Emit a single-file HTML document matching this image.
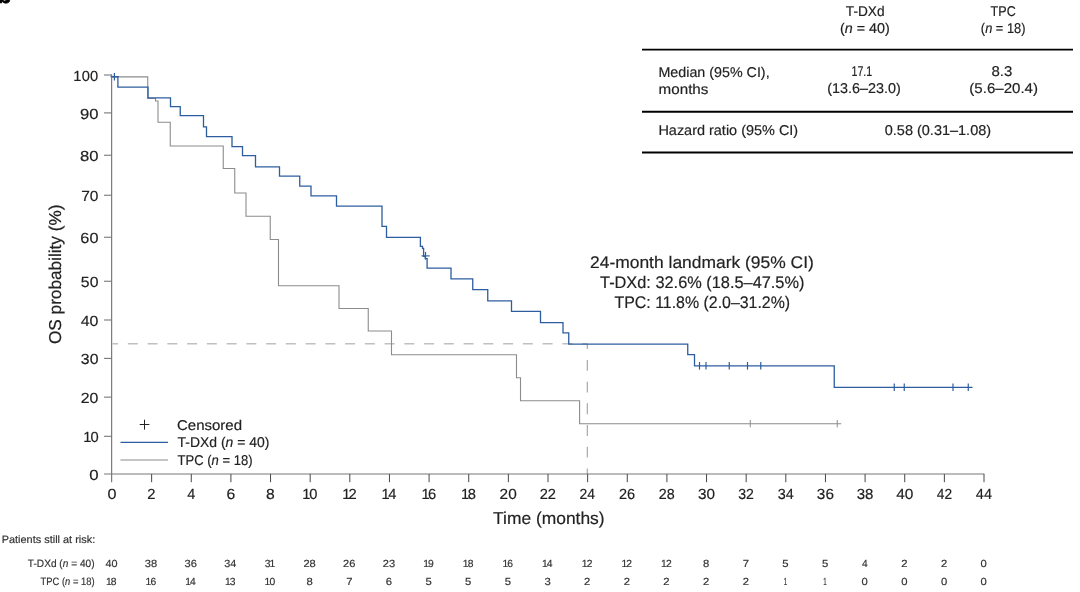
<!DOCTYPE html>
<html lang="en">
<head>
<meta charset="utf-8">
<title>Overall survival: T-DXd vs TPC</title>
<style>
html,body{margin:0;padding:0;background:#fff;}
body{width:1080px;height:592px;overflow:hidden;position:relative;font-family:"Liberation Sans", sans-serif;}
svg{position:absolute;left:0;top:0;display:block;}
svg text{font-family:"Liberation Sans", sans-serif;text-rendering:geometricPrecision;stroke-width:.18px;stroke-linejoin:round;}
</style>
</head>
<body>
<svg width="1080" height="592" viewBox="0 0 1080 592" role="img" aria-label="Kaplan-Meier overall survival plot">
<text x="-3.1" y="2.8" font-size="24" font-weight="bold" fill="#000" stroke="#000" style="stroke-width:.5px">b</text>
<line x1="112.5" y1="343.7" x2="587.3" y2="343.7" stroke="#c0c0c0" stroke-width="1.35" stroke-dasharray="10 9.75" stroke-dashoffset="4.4"/>
<line x1="587.3" y1="343.7" x2="587.3" y2="474" stroke="#a0a0a0" stroke-width="1.1" stroke-dasharray="10.85 10.85" stroke-dashoffset="5.45"/>
<polyline fill="none" stroke="#8c8c8c" stroke-width="1.1" points="112,76.9 147.75,76.9 147.75,98.55 155.5,98.55 155.5,101.05 158,101.05 158,122.3 170.25,122.3 170.25,146.05 223.25,146.05 223.25,168.55 234.75,168.55 234.75,193.05 246,193.05 246,216.3 270.25,216.3 270.25,239.55 278.5,239.55 278.5,285.8 339,285.8 339,308.55 368.25,308.55 368.25,331.05 391.5,331.05 391.5,354.8 516.5,354.8 516.5,377.8 520.5,377.8 520.5,400.8 579.6,400.8 579.6,423.7 841.25,423.7"/>
<line x1="750.25" y1="420.0" x2="750.25" y2="427.3" stroke="#8c8c8c" stroke-width="1"/>
<line x1="837.25" y1="420.0" x2="837.25" y2="427.3" stroke="#8c8c8c" stroke-width="1"/>
<polyline fill="none" stroke="#2c5d9f" stroke-width="1.3" points="112,76.7 117.9,76.7 117.9,87.05 148,87.05 148,97.8 170.5,97.8 170.5,106.55 180.25,106.55 180.25,115.55 203.5,115.55 203.5,126.8 206.5,126.8 206.5,136.55 232,136.55 232,146.55 242.5,146.55 242.5,155.55 255.5,155.55 255.5,166.8 279.5,166.8 279.5,176.05 299.75,176.05 299.75,186.05 311,186.05 311,195.8 336.5,195.8 336.5,206.05 382,206.05 382,226.3 386.5,226.3 386.5,237.3 420.4,237.3 420.4,246.3 422.5,246.3 422.5,248.4 423.6,248.4 423.6,256.3 425.3,256.3 425.3,258.6 427.1,258.6 427.1,268.05 451,268.05 451,278.8 472.75,278.8 472.75,289.55 487.75,289.55 487.75,300.8 511.5,300.8 511.5,311.3 540.5,311.3 540.5,322.55 563,322.55 563,332.8 568.75,332.8 568.75,344.05 687.75,344.05 687.75,354.55 694.5,354.55 694.5,365.8 834.25,365.8 834.25,387.3 972.5,387.3"/>
<line x1="114.4" y1="73.0" x2="114.4" y2="80.6" stroke="#2c5d9f" stroke-width="1.2"/>
<line x1="425.5" y1="251.89999999999998" x2="425.5" y2="259.5" stroke="#2c5d9f" stroke-width="1.2"/>
<line x1="699.5" y1="362.0" x2="699.5" y2="369.6" stroke="#2c5d9f" stroke-width="1.2"/>
<line x1="706" y1="362.0" x2="706" y2="369.6" stroke="#2c5d9f" stroke-width="1.2"/>
<line x1="729.25" y1="362.0" x2="729.25" y2="369.6" stroke="#2c5d9f" stroke-width="1.2"/>
<line x1="747.5" y1="362.0" x2="747.5" y2="369.6" stroke="#2c5d9f" stroke-width="1.2"/>
<line x1="760.75" y1="362.0" x2="760.75" y2="369.6" stroke="#2c5d9f" stroke-width="1.2"/>
<line x1="894.25" y1="383.5" x2="894.25" y2="391.1" stroke="#2c5d9f" stroke-width="1.2"/>
<line x1="904.25" y1="383.5" x2="904.25" y2="391.1" stroke="#2c5d9f" stroke-width="1.2"/>
<line x1="953" y1="383.5" x2="953" y2="391.1" stroke="#2c5d9f" stroke-width="1.2"/>
<line x1="968.25" y1="383.5" x2="968.25" y2="391.1" stroke="#2c5d9f" stroke-width="1.2"/>
<line x1="110.4" y1="76.7" x2="118.4" y2="76.7" stroke="#2c5d9f" stroke-width="1.2"/>
<line x1="421.4" y1="255.9" x2="429.8" y2="255.9" stroke="#2c5d9f" stroke-width="1.1"/>
<line x1="111.65" y1="74.4" x2="111.65" y2="482.2" stroke="#6e6e6e" stroke-width="1.1"/>
<line x1="104" y1="474" x2="984.3" y2="474" stroke="#787878" stroke-width="1.2"/>
<line x1="104" y1="75" x2="112" y2="75" stroke="#787878" stroke-width="1.1"/>
<line x1="104" y1="112.9" x2="112" y2="112.9" stroke="#787878" stroke-width="1.1"/>
<line x1="104" y1="155.25" x2="112" y2="155.25" stroke="#787878" stroke-width="1.1"/>
<line x1="104" y1="195.25" x2="112" y2="195.25" stroke="#787878" stroke-width="1.1"/>
<line x1="104" y1="237.25" x2="112" y2="237.25" stroke="#787878" stroke-width="1.1"/>
<line x1="104" y1="281.25" x2="112" y2="281.25" stroke="#787878" stroke-width="1.1"/>
<line x1="104" y1="320" x2="112" y2="320" stroke="#787878" stroke-width="1.1"/>
<line x1="104" y1="358.4" x2="112" y2="358.4" stroke="#787878" stroke-width="1.1"/>
<line x1="104" y1="397.15" x2="112" y2="397.15" stroke="#787878" stroke-width="1.1"/>
<line x1="104" y1="436.3" x2="112" y2="436.3" stroke="#787878" stroke-width="1.1"/>
<line x1="151.64" y1="474" x2="151.64" y2="482.2" stroke="#484848" stroke-width="1"/>
<line x1="191.27" y1="474" x2="191.27" y2="482.2" stroke="#484848" stroke-width="1"/>
<line x1="230.91" y1="474" x2="230.91" y2="482.2" stroke="#484848" stroke-width="1"/>
<line x1="270.55" y1="474" x2="270.55" y2="482.2" stroke="#484848" stroke-width="1"/>
<line x1="310.18" y1="474" x2="310.18" y2="482.2" stroke="#484848" stroke-width="1"/>
<line x1="349.82" y1="474" x2="349.82" y2="482.2" stroke="#484848" stroke-width="1"/>
<line x1="389.45" y1="474" x2="389.45" y2="482.2" stroke="#484848" stroke-width="1"/>
<line x1="429.09" y1="474" x2="429.09" y2="482.2" stroke="#484848" stroke-width="1"/>
<line x1="468.73" y1="474" x2="468.73" y2="482.2" stroke="#484848" stroke-width="1"/>
<line x1="508.36" y1="474" x2="508.36" y2="482.2" stroke="#484848" stroke-width="1"/>
<line x1="548.0" y1="474" x2="548.0" y2="482.2" stroke="#484848" stroke-width="1"/>
<line x1="587.64" y1="474" x2="587.64" y2="482.2" stroke="#484848" stroke-width="1"/>
<line x1="627.27" y1="474" x2="627.27" y2="482.2" stroke="#484848" stroke-width="1"/>
<line x1="666.91" y1="474" x2="666.91" y2="482.2" stroke="#484848" stroke-width="1"/>
<line x1="706.55" y1="474" x2="706.55" y2="482.2" stroke="#484848" stroke-width="1"/>
<line x1="746.18" y1="474" x2="746.18" y2="482.2" stroke="#484848" stroke-width="1"/>
<line x1="785.82" y1="474" x2="785.82" y2="482.2" stroke="#484848" stroke-width="1"/>
<line x1="825.45" y1="474" x2="825.45" y2="482.2" stroke="#484848" stroke-width="1"/>
<line x1="865.09" y1="474" x2="865.09" y2="482.2" stroke="#484848" stroke-width="1"/>
<line x1="904.73" y1="474" x2="904.73" y2="482.2" stroke="#484848" stroke-width="1"/>
<line x1="944.36" y1="474" x2="944.36" y2="482.2" stroke="#484848" stroke-width="1"/>
<line x1="984.0" y1="474" x2="984.0" y2="482.2" stroke="#484848" stroke-width="1"/>
<line x1="139.7" y1="424.5" x2="149.4" y2="424.5" stroke="#222" stroke-width="1"/>
<line x1="144.5" y1="419.7" x2="144.5" y2="429.6" stroke="#222" stroke-width="1"/>
<line x1="120.5" y1="442.3" x2="168" y2="442.3" stroke="#2c5d9f" stroke-width="1.3"/>
<line x1="120.5" y1="460" x2="168" y2="460" stroke="#8c8c8c" stroke-width="1.2"/>
<line x1="642" y1="49.6" x2="1073" y2="49.6" stroke="#000" stroke-width="1.95"/>
<line x1="642" y1="111.8" x2="1073" y2="111.8" stroke="#000" stroke-width="1.95"/>
<line x1="642" y1="152.55" x2="1073" y2="152.55" stroke="#000" stroke-width="1.95"/>
<g id="table">
<text x="845.81" y="16" font-size="14.2" textLength="38.83" lengthAdjust="spacingAndGlyphs" fill="#222" stroke="#222">T-DXd</text>
<text x="840.04" y="33" font-size="14.2" textLength="49.73" lengthAdjust="spacingAndGlyphs" fill="#222" stroke="#222">(<tspan font-style="italic">n</tspan> = 40)</text>
<text x="990.58" y="16" font-size="14.2" textLength="25.18" lengthAdjust="spacingAndGlyphs" fill="#222" stroke="#222">TPC</text>
<text x="980.87" y="33" font-size="14.2" textLength="44.56" lengthAdjust="spacingAndGlyphs" fill="#222" stroke="#222">(<tspan font-style="italic">n</tspan> = 18)</text>
<text x="658.44" y="77" font-size="14.2" textLength="111.16" lengthAdjust="spacingAndGlyphs" fill="#222" stroke="#222">Median (95% CI),</text>
<text x="658.63" y="94" font-size="14.2" textLength="49.74" lengthAdjust="spacingAndGlyphs" fill="#222" stroke="#222">months</text>
<text x="851.45" y="76" font-size="14.2" textLength="20.83" lengthAdjust="spacingAndGlyphs" fill="#222" stroke="#222">17.1</text>
<text x="827.24" y="93" font-size="14.2" textLength="73.5" lengthAdjust="spacingAndGlyphs" fill="#222" stroke="#222">(13.6–23.0)</text>
<text x="991.47" y="76" font-size="14.2" textLength="20.8" lengthAdjust="spacingAndGlyphs" fill="#222" stroke="#222">8.3</text>
<text x="969.3" y="93" font-size="14.2" textLength="68.69" lengthAdjust="spacingAndGlyphs" fill="#222" stroke="#222">(5.6–20.4)</text>
<text x="658.43" y="135" font-size="14.2" textLength="139.74" lengthAdjust="spacingAndGlyphs" fill="#222" stroke="#222">Hazard ratio (95% CI)</text>
<text x="884.79" y="135" font-size="14.2" textLength="106.3" lengthAdjust="spacingAndGlyphs" fill="#222" stroke="#222">0.58 (0.31–1.08)</text>
</g>
<g id="landmark">
<text x="590.03" y="268" font-size="16.9" textLength="223.82" lengthAdjust="spacingAndGlyphs" fill="#222" stroke="#222">24-month landmark (95% CI)</text>
<text x="600.06" y="288" font-size="16.9" textLength="204.36" lengthAdjust="spacingAndGlyphs" fill="#222" stroke="#222">T-DXd: 32.6% (18.5–47.5%)</text>
<text x="614.56" y="308" font-size="16.9" textLength="175.59" lengthAdjust="spacingAndGlyphs" fill="#222" stroke="#222">TPC: 11.8% (2.0–31.2%)</text>
</g>
<g id="y-title">
<text transform="translate(60.5 343.6) rotate(-90)" x="-0.45" y="0" font-size="17.2" textLength="139.52" lengthAdjust="spacingAndGlyphs" fill="#222" stroke="#222">OS probability (%)</text>
</g>
<g id="y-axis">
<text x="73.2" y="80.7" font-size="14.7" letter-spacing="0.3" fill="#222" stroke="#222">100</text>
<text x="79.95" y="118.60000000000001" font-size="14.7" textLength="18.52" lengthAdjust="spacingAndGlyphs" fill="#222" stroke="#222">90</text>
<text x="79.95" y="160.95" font-size="14.7" textLength="18.52" lengthAdjust="spacingAndGlyphs" fill="#222" stroke="#222">80</text>
<text x="81.21" y="200.95" font-size="14.7" textLength="17.22" lengthAdjust="spacingAndGlyphs" fill="#222" stroke="#222">70</text>
<text x="80.37" y="242.95" font-size="14.7" textLength="18.09" lengthAdjust="spacingAndGlyphs" fill="#222" stroke="#222">60</text>
<text x="80.86" y="286.95" font-size="14.7" textLength="17.58" lengthAdjust="spacingAndGlyphs" fill="#222" stroke="#222">50</text>
<text x="80.73" y="325.7" font-size="14.7" textLength="17.71" lengthAdjust="spacingAndGlyphs" fill="#222" stroke="#222">40</text>
<text x="80.86" y="364.09999999999997" font-size="14.7" textLength="17.58" lengthAdjust="spacingAndGlyphs" fill="#222" stroke="#222">30</text>
<text x="80.79" y="402.84999999999997" font-size="14.7" textLength="17.65" lengthAdjust="spacingAndGlyphs" fill="#222" stroke="#222">20</text>
<text x="83.3" y="442.0" font-size="14.7" letter-spacing="-0.95" fill="#222" stroke="#222">10</text>
<text x="89.23" y="479.7" font-size="14.7" textLength="9.34" lengthAdjust="spacingAndGlyphs" fill="#222" stroke="#222">0</text>
</g>
<g id="x-axis">
<text x="107.5" y="499" font-size="14.7" textLength="8.99" lengthAdjust="spacingAndGlyphs" fill="#222" stroke="#222">0</text>
<text x="147.38" y="499" font-size="14.7" textLength="8.23" lengthAdjust="spacingAndGlyphs" fill="#222" stroke="#222">2</text>
<text x="187.23" y="499" font-size="14.7" textLength="8.06" lengthAdjust="spacingAndGlyphs" fill="#222" stroke="#222">4</text>
<text x="226.41" y="499" font-size="14.7" textLength="8.72" lengthAdjust="spacingAndGlyphs" fill="#222" stroke="#222">6</text>
<text x="266.05" y="499" font-size="14.7" textLength="8.72" lengthAdjust="spacingAndGlyphs" fill="#222" stroke="#222">8</text>
<text x="302.28" y="499" font-size="14.7" letter-spacing="-1.15" fill="#222" stroke="#222">10</text>
<text x="342.27" y="499" font-size="14.7" letter-spacing="-1.85" fill="#222" stroke="#222">12</text>
<text x="381.55" y="499" font-size="14.7" letter-spacing="-1.4" fill="#222" stroke="#222">14</text>
<text x="421.39" y="499" font-size="14.7" letter-spacing="-1.55" fill="#222" stroke="#222">16</text>
<text x="461.03" y="499" font-size="14.7" letter-spacing="-1.55" fill="#222" stroke="#222">18</text>
<text x="499.63" y="499" font-size="14.7" textLength="17.11" lengthAdjust="spacingAndGlyphs" fill="#222" stroke="#222">20</text>
<text x="539.65" y="499" font-size="14.7" textLength="16.34" lengthAdjust="spacingAndGlyphs" fill="#222" stroke="#222">22</text>
<text x="579.57" y="499" font-size="14.7" textLength="15.54" lengthAdjust="spacingAndGlyphs" fill="#222" stroke="#222">24</text>
<text x="619.03" y="499" font-size="14.7" textLength="16.13" lengthAdjust="spacingAndGlyphs" fill="#222" stroke="#222">26</text>
<text x="658.78" y="499" font-size="14.7" textLength="15.91" lengthAdjust="spacingAndGlyphs" fill="#222" stroke="#222">28</text>
<text x="697.97" y="499" font-size="14.7" textLength="17.04" lengthAdjust="spacingAndGlyphs" fill="#222" stroke="#222">30</text>
<text x="738.3" y="499" font-size="14.7" textLength="15.65" lengthAdjust="spacingAndGlyphs" fill="#222" stroke="#222">32</text>
<text x="777.63" y="499" font-size="14.7" textLength="16.03" lengthAdjust="spacingAndGlyphs" fill="#222" stroke="#222">34</text>
<text x="816.88" y="499" font-size="14.7" textLength="17.04" lengthAdjust="spacingAndGlyphs" fill="#222" stroke="#222">36</text>
<text x="856.68" y="499" font-size="14.7" textLength="16.72" lengthAdjust="spacingAndGlyphs" fill="#222" stroke="#222">38</text>
<text x="896.21" y="499" font-size="14.7" textLength="17.19" lengthAdjust="spacingAndGlyphs" fill="#222" stroke="#222">40</text>
<text x="936.78" y="499" font-size="14.7" textLength="15.29" lengthAdjust="spacingAndGlyphs" fill="#222" stroke="#222">42</text>
<text x="975.85" y="499" font-size="14.7" textLength="16.19" lengthAdjust="spacingAndGlyphs" fill="#222" stroke="#222">44</text>
</g>
<g id="x-title">
<text x="493.05" y="524" font-size="17.2" textLength="111.56" lengthAdjust="spacingAndGlyphs" fill="#222" stroke="#222">Time (months)</text>
</g>
<g id="legend">
<text x="177.01" y="430" font-size="14.2" textLength="65.03" lengthAdjust="spacingAndGlyphs" fill="#222" stroke="#222">Censored</text>
<text x="177.55" y="447" font-size="14.2" textLength="91.83" lengthAdjust="spacingAndGlyphs" fill="#222" stroke="#222">T-DXd (<tspan font-style="italic">n</tspan> = 40)</text>
<text x="177.57" y="465" font-size="14.2" textLength="74.93" lengthAdjust="spacingAndGlyphs" fill="#222" stroke="#222">TPC (<tspan font-style="italic">n</tspan> = 18)</text>
</g>
<g id="risk">
<text x="1.73" y="543" font-size="10.7" textLength="93.46" lengthAdjust="spacingAndGlyphs" fill="#333" stroke="#333">Patients still at risk:</text>
<text x="27.86" y="567" font-size="10.7" textLength="66.67" lengthAdjust="spacingAndGlyphs" fill="#333" stroke="#333">T-DXd (<tspan font-style="italic">n</tspan> = 40)</text>
<text x="105.49" y="567" font-size="10.3" textLength="12.06" lengthAdjust="spacingAndGlyphs" fill="#333" stroke="#333">40</text>
<text x="144.86" y="567" font-size="10.3" textLength="12.34" lengthAdjust="spacingAndGlyphs" fill="#333" stroke="#333">38</text>
<text x="184.51" y="567" font-size="10.3" textLength="12.34" lengthAdjust="spacingAndGlyphs" fill="#333" stroke="#333">36</text>
<text x="224.17" y="567" font-size="10.3" textLength="12.06" lengthAdjust="spacingAndGlyphs" fill="#333" stroke="#333">34</text>
<text x="264.8" y="567" font-size="10.3" letter-spacing="-1.1" fill="#333" stroke="#333">31</text>
<text x="303.46" y="567" font-size="10.3" textLength="12.34" lengthAdjust="spacingAndGlyphs" fill="#333" stroke="#333">28</text>
<text x="343.11" y="567" font-size="10.3" textLength="12.34" lengthAdjust="spacingAndGlyphs" fill="#333" stroke="#333">26</text>
<text x="382.76" y="567" font-size="10.3" textLength="12.34" lengthAdjust="spacingAndGlyphs" fill="#333" stroke="#333">23</text>
<text x="423.15" y="567" font-size="10.3" letter-spacing="-0.85" fill="#333" stroke="#333">19</text>
<text x="462.8" y="567" font-size="10.3" letter-spacing="-0.85" fill="#333" stroke="#333">18</text>
<text x="502.45" y="567" font-size="10.3" letter-spacing="-0.85" fill="#333" stroke="#333">16</text>
<text x="542.1" y="567" font-size="10.3" letter-spacing="-1.1" fill="#333" stroke="#333">14</text>
<text x="581.75" y="567" font-size="10.3" letter-spacing="-0.85" fill="#333" stroke="#333">12</text>
<text x="621.4" y="567" font-size="10.3" letter-spacing="-0.85" fill="#333" stroke="#333">12</text>
<text x="661.05" y="567" font-size="10.3" letter-spacing="-0.85" fill="#333" stroke="#333">12</text>
<text x="703.0" y="567" font-size="10.3" textLength="6.28" lengthAdjust="spacingAndGlyphs" fill="#333" stroke="#333">8</text>
<text x="742.65" y="567" font-size="10.3" textLength="6.28" lengthAdjust="spacingAndGlyphs" fill="#333" stroke="#333">7</text>
<text x="782.3" y="567" font-size="10.3" textLength="6.28" lengthAdjust="spacingAndGlyphs" fill="#333" stroke="#333">5</text>
<text x="821.95" y="567" font-size="10.3" textLength="6.28" lengthAdjust="spacingAndGlyphs" fill="#333" stroke="#333">5</text>
<text x="861.9" y="567" font-size="10.3" textLength="5.68" lengthAdjust="spacingAndGlyphs" fill="#333" stroke="#333">4</text>
<text x="901.25" y="567" font-size="10.3" textLength="6.28" lengthAdjust="spacingAndGlyphs" fill="#333" stroke="#333">2</text>
<text x="940.9" y="567" font-size="10.3" textLength="6.28" lengthAdjust="spacingAndGlyphs" fill="#333" stroke="#333">2</text>
<text x="980.55" y="567" font-size="10.3" textLength="6.28" lengthAdjust="spacingAndGlyphs" fill="#333" stroke="#333">0</text>
<text x="40.58" y="585" font-size="10.7" textLength="53.98" lengthAdjust="spacingAndGlyphs" fill="#333" stroke="#333">TPC (<tspan font-style="italic">n</tspan> = 18)</text>
<text x="105.95" y="585" font-size="10.3" letter-spacing="-0.85" fill="#333" stroke="#333">18</text>
<text x="145.6" y="585" font-size="10.3" letter-spacing="-0.85" fill="#333" stroke="#333">16</text>
<text x="185.25" y="585" font-size="10.3" letter-spacing="-1.1" fill="#333" stroke="#333">14</text>
<text x="224.9" y="585" font-size="10.3" letter-spacing="-0.85" fill="#333" stroke="#333">13</text>
<text x="264.55" y="585" font-size="10.3" letter-spacing="-0.85" fill="#333" stroke="#333">10</text>
<text x="306.5" y="585" font-size="10.3" textLength="6.28" lengthAdjust="spacingAndGlyphs" fill="#333" stroke="#333">8</text>
<text x="346.15" y="585" font-size="10.3" textLength="6.28" lengthAdjust="spacingAndGlyphs" fill="#333" stroke="#333">7</text>
<text x="385.8" y="585" font-size="10.3" textLength="6.28" lengthAdjust="spacingAndGlyphs" fill="#333" stroke="#333">6</text>
<text x="425.45" y="585" font-size="10.3" textLength="6.28" lengthAdjust="spacingAndGlyphs" fill="#333" stroke="#333">5</text>
<text x="465.1" y="585" font-size="10.3" textLength="6.28" lengthAdjust="spacingAndGlyphs" fill="#333" stroke="#333">5</text>
<text x="504.75" y="585" font-size="10.3" textLength="6.28" lengthAdjust="spacingAndGlyphs" fill="#333" stroke="#333">5</text>
<text x="544.4" y="585" font-size="10.3" textLength="6.28" lengthAdjust="spacingAndGlyphs" fill="#333" stroke="#333">3</text>
<text x="584.05" y="585" font-size="10.3" textLength="6.28" lengthAdjust="spacingAndGlyphs" fill="#333" stroke="#333">2</text>
<text x="623.7" y="585" font-size="10.3" textLength="6.28" lengthAdjust="spacingAndGlyphs" fill="#333" stroke="#333">2</text>
<text x="663.35" y="585" font-size="10.3" textLength="6.28" lengthAdjust="spacingAndGlyphs" fill="#333" stroke="#333">2</text>
<text x="703.0" y="585" font-size="10.3" textLength="6.28" lengthAdjust="spacingAndGlyphs" fill="#333" stroke="#333">2</text>
<text x="742.65" y="585" font-size="10.3" textLength="6.28" lengthAdjust="spacingAndGlyphs" fill="#333" stroke="#333">2</text>
<text x="783.65" y="585" font-size="10.3" textLength="3.44" lengthAdjust="spacingAndGlyphs" fill="#333" stroke="#333">1</text>
<text x="823.3" y="585" font-size="10.3" textLength="3.44" lengthAdjust="spacingAndGlyphs" fill="#333" stroke="#333">1</text>
<text x="861.6" y="585" font-size="10.3" textLength="6.28" lengthAdjust="spacingAndGlyphs" fill="#333" stroke="#333">0</text>
<text x="901.25" y="585" font-size="10.3" textLength="6.28" lengthAdjust="spacingAndGlyphs" fill="#333" stroke="#333">0</text>
<text x="940.9" y="585" font-size="10.3" textLength="6.28" lengthAdjust="spacingAndGlyphs" fill="#333" stroke="#333">0</text>
<text x="980.55" y="585" font-size="10.3" textLength="6.28" lengthAdjust="spacingAndGlyphs" fill="#333" stroke="#333">0</text>
</g>
</svg>
</body>
</html>
